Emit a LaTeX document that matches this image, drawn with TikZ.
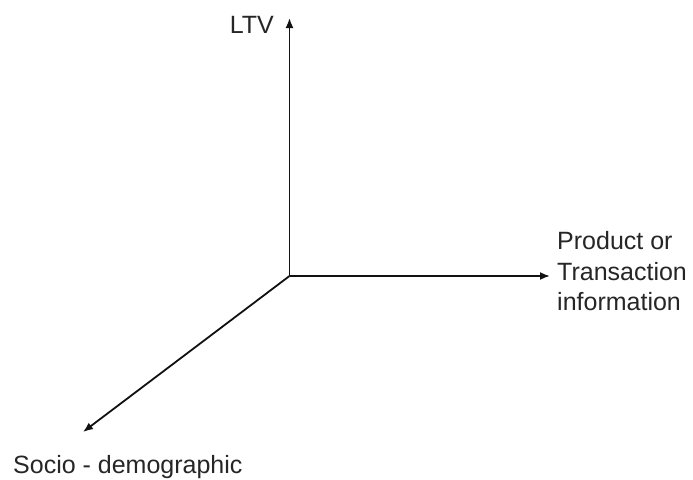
\documentclass[tikz,border=0pt]{standalone}
\usepackage{fontspec}
\setmainfont{Liberation Sans}
\usetikzlibrary{arrows.meta}
\definecolor{axisink}{HTML}{111111}
\definecolor{labelink}{HTML}{262626}
\begin{document}
\begin{tikzpicture}[x=1pt,y=-1pt,
    axis/.style={draw=axisink,line width=1.8pt,-{Latex[length=10pt,width=8pt]}},
    axislabel/.style={inner sep=0pt,text=labelink,font=\fontsize{25}{30.5}\selectfont}]
  \useasboundingbox[fill=white] (0,0) rectangle (693,479);

  % origin and axis tips
  \coordinate (O) at (289.5,276);
  \coordinate (ltvtip) at (289.5,18);
  \coordinate (prodtip) at (550,276);
  \coordinate (sociotip) at (83,432);

  % the three axes
  \draw[axis] (O) -- (ltvtip);
  \draw[axis] (O) -- (prodtip);
  \draw[axis] (O) -- (sociotip);

  % axis labels
  \node[axislabel,anchor=base east] (ltv) at (274,33) {LTV};
  \node[axislabel,anchor=base west] (prod1) at (557,249) {Product or};
  \node[axislabel,anchor=base west] (prod2) at (557,280) {Transaction};
  \node[axislabel,anchor=base west] (prod3) at (557,310) {information};
  \node[axislabel,anchor=base west] (socio) at (13,473) {Socio - demographic};
\end{tikzpicture}
\end{document}
